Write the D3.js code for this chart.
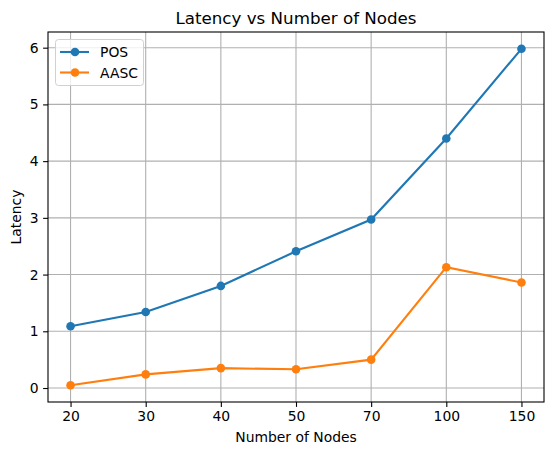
<!DOCTYPE html>
<html>
<head>
<meta charset="utf-8">
<script src="https://cdn.jsdelivr.net/npm/d3@7"></script>
<style>
  body { margin: 0; background: #fff; }
  text { font-family: "DejaVu Sans", sans-serif; fill: #000; }
</style>
</head>
<body>
<script>
(function(){

    //chart data
    var nodes = ["20", "30", "40", "50", "70", "100", "150"];
    var posLatency = [1.09, 1.34, 1.80, 2.41, 2.97, 4.40, 5.98];
    var aascLatency = [0.05, 0.24, 0.35, 0.33, 0.50, 2.13, 1.86];
    var yTicks = [0, 1, 2, 3, 4, 5, 6];
    var seriesNames = ["POS", "AASC"];
    var seriesColors = ["#1f77b4", "#ff7f0e"];

    var width = 554, height = 455;
    var plot = {left: 48, right: 544, top: 32, bottom: 402};

    var svg = d3.select("body")
        .append("svg")
        .attr("width", width)
        .attr("height", height);

    //categorical x positions with matplotlib-like margins
    var xScale = d3.scaleLinear()
        .domain([-0.3, nodes.length - 1 + 0.3])
        .range([plot.left, plot.right]);

    var allVals = posLatency.concat(aascLatency);
    var yMin = d3.min(allVals), yMax = d3.max(allVals);
    var pad = (yMax - yMin) * 0.05;
    var yScale = d3.scaleLinear()
        .domain([yMin - pad, yMax + pad])
        .range([plot.bottom, plot.top]);

    //grid lines
    var grid = svg.append("g").attr("class", "grid");
    grid.selectAll(".vgrid")
        .data(nodes)
        .enter()
        .append("line")
        .attr("x1", function(d, i) { return xScale(i); })
        .attr("x2", function(d, i) { return xScale(i); })
        .attr("y1", plot.top)
        .attr("y2", plot.bottom)
        .style("stroke", "#b0b0b0")
        .style("stroke-width", 1.1);
    grid.selectAll(".hgrid")
        .data(yTicks)
        .enter()
        .append("line")
        .attr("x1", plot.left)
        .attr("x2", plot.right)
        .attr("y1", function(d) { return yScale(d); })
        .attr("y2", function(d) { return yScale(d); })
        .style("stroke", "#b0b0b0")
        .style("stroke-width", 1.1);

    //axes
    var xAxis = d3.axisBottom(xScale)
        .tickValues(d3.range(nodes.length))
        .tickFormat(function(i) { return nodes[i]; })
        .tickSize(4.9)
        .tickPadding(4.5);
    var yAxis = d3.axisLeft(yScale)
        .tickValues(yTicks)
        .tickFormat(d3.format("d"))
        .tickSize(4.9)
        .tickPadding(4.5);

    var gx = svg.append("g")
        .attr("transform", "translate(0," + plot.bottom + ")")
        .call(xAxis);
    var gy = svg.append("g")
        .attr("transform", "translate(" + plot.left + ",0)")
        .call(yAxis);
    [gx, gy].forEach(function(g) {
        g.select(".domain").remove();
        g.selectAll(".tick line").style("stroke", "#000").style("stroke-width", 1.1);
        g.selectAll(".tick text")
            .style("font-size", "13.9px")
            .style("font-family", "DejaVu Sans, sans-serif");
    });

    //frame
    svg.append("rect")
        .attr("x", plot.left)
        .attr("y", plot.top)
        .attr("width", plot.right - plot.left)
        .attr("height", plot.bottom - plot.top)
        .style("fill", "none")
        .style("stroke", "#000")
        .style("stroke-width", 1.1);

    //lines and markers
    var line = d3.line()
        .x(function(d, i) { return xScale(i); })
        .y(function(d) { return yScale(d); });

    [posLatency, aascLatency].forEach(function(series, s) {
        svg.append("path")
            .datum(series)
            .attr("d", line)
            .style("fill", "none")
            .style("stroke", seriesColors[s])
            .style("stroke-width", 2.1);
        svg.selectAll(".pt" + s)
            .data(series)
            .enter()
            .append("circle")
            .attr("cx", function(d, i) { return xScale(i); })
            .attr("cy", function(d) { return yScale(d); })
            .attr("r", 4.3)
            .style("fill", seriesColors[s]);
    });

    //title and axis labels
    svg.append("text")
        .attr("x", (plot.left + plot.right) / 2)
        .attr("y", 24)
        .attr("text-anchor", "middle")
        .style("font-size", "16.7px")
        .text("Latency vs Number of Nodes");
    svg.append("text")
        .attr("x", (plot.left + plot.right) / 2)
        .attr("y", 442)
        .attr("text-anchor", "middle")
        .style("font-size", "13.9px")
        .text("Number of Nodes");
    svg.append("text")
        .attr("transform", "translate(21," + ((plot.top + plot.bottom) / 2) + ") rotate(-90)")
        .attr("text-anchor", "middle")
        .style("font-size", "13.9px")
        .text("Latency");

    //legend
    var legend = svg.append("g");
    legend.append("rect")
        .attr("x", 55.5)
        .attr("y", 39.5)
        .attr("width", 88)
        .attr("height", 46)
        .attr("rx", 3)
        .style("fill", "#fff")
        .style("fill-opacity", 0.8)
        .style("stroke", "#d0d0d0")
        .style("stroke-width", 1);
    seriesNames.forEach(function(name, s) {
        var ly = 52 + s * 20.5;
        legend.append("line")
            .attr("x1", 60).attr("x2", 89)
            .attr("y1", ly).attr("y2", ly)
            .style("stroke", seriesColors[s])
            .style("stroke-width", 2.1);
        legend.append("circle")
            .attr("cx", 75).attr("cy", ly).attr("r", 4.3)
            .style("fill", seriesColors[s]);
        legend.append("text")
            .attr("x", 100)
            .attr("y", ly + 5)
            .style("font-size", "13.9px")
            .text(name);
    });
})();
</script>
</body>
</html>
